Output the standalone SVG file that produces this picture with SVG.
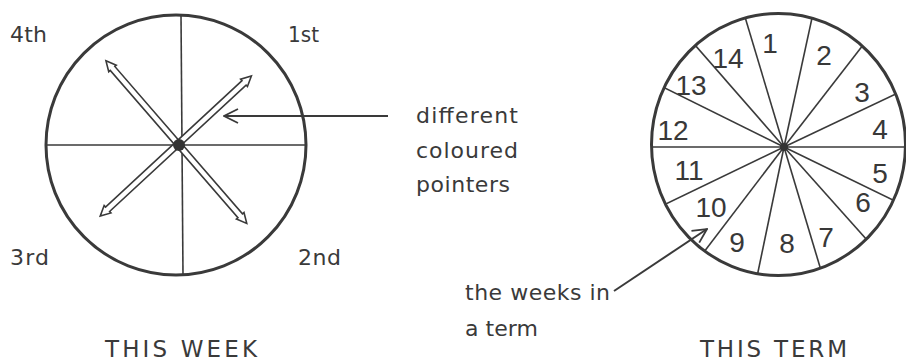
<svg xmlns="http://www.w3.org/2000/svg" width="906" height="362" viewBox="0 0 906 362">
<style>
  .rim { fill: none; stroke: #3a3a3a; stroke-width: 3; }
  .div { stroke: #3a3a3a; stroke-width: 1.6; fill: none; }
  .ptr { fill: #ffffff; stroke: #3a3a3a; stroke-width: 1.6; stroke-linejoin: miter; }
  .hub { fill: #333333; }
  .lbl { font-family: "DejaVu Sans", "Liberation Sans", sans-serif; font-size: 22px; fill: #3a3a3a; }
  .cap { font-family: "DejaVu Sans", "Liberation Sans", sans-serif; font-size: 23px; fill: #3a3a3a; }
  .num { font-family: "Liberation Sans", Arial, sans-serif; font-size: 28px; fill: #383838; text-anchor: middle; }
  .conn { stroke: #3a3a3a; stroke-width: 2; fill: none; }
</style>
<defs>
  <marker id="openHead" viewBox="0 0 16 16" refX="15" refY="8" markerWidth="16" markerHeight="16" markerUnits="userSpaceOnUse" orient="auto">
    <path d="M1,1 L15,8 L1,15" fill="none" stroke="#3a3a3a" stroke-width="1.8"/>
  </marker>
  <clipPath id="termClip">
    <ellipse cx="778.5" cy="144.5" rx="127" ry="131"/>
  </clipPath>
</defs>
<rect width="906" height="362" fill="#ffffff"/>

<g id="this-week">
  <line class="div" x1="181" y1="15" x2="183" y2="275"/>
  <line class="div" x1="46" y1="145" x2="306" y2="145"/>
  <g transform="translate(178,144) rotate(49.1)">
    <polygon class="ptr" points="-110,0 -100,-5 -100,-3 95,-3 95,-5 105,0 95,5 95,3 -100,3 -100,5"/>
  </g>
  <g transform="translate(178,144) rotate(-42.8)">
    <polygon class="ptr" points="-106,0 -96,-5 -96,-3 90,-3 90,-5 100,0 90,5 90,3 -96,3 -96,5"/>
  </g>
  <circle class="hub" cx="179" cy="145" r="6"/>
  <circle class="rim" cx="176" cy="145" r="130"/>
</g>

<g id="week-labels">
  <text class="lbl" x="10" y="42" textLength="37" lengthAdjust="spacing">4th</text>
  <text class="lbl" x="288" y="42" textLength="31" lengthAdjust="spacingAndGlyphs">1st</text>
  <text class="lbl" x="10" y="265" textLength="39" lengthAdjust="spacing">3rd</text>
  <text class="lbl" x="298" y="265" textLength="43" lengthAdjust="spacing">2nd</text>
  <text class="cap" x="105" y="357" textLength="152" lengthAdjust="spacing">THIS WEEK</text>
</g>

<g id="pointer-note">
  <text class="lbl" x="416" y="123" textLength="102" lengthAdjust="spacing">different</text>
  <text class="lbl" x="416" y="158" textLength="102" lengthAdjust="spacing">coloured</text>
  <text class="lbl" x="416" y="192" textLength="94" lengthAdjust="spacing">pointers</text>
</g>

<g id="this-term">
  <g clip-path="url(#termClip)" class="div">
    <line x1="784" y1="147" x2="733.3" y2="-22"/>
    <line x1="784" y1="147" x2="820.4" y2="-20.7"/>
    <line x1="784" y1="147" x2="886.7" y2="14.4"/>
    <line x1="784" y1="147" x2="932.2" y2="76.8"/>
    <line x1="784" y1="147" x2="950" y2="147"/>
    <line x1="784" y1="147" x2="930.9" y2="218.5"/>
    <line x1="784" y1="147" x2="891.9" y2="267.9"/>
    <line x1="784" y1="147" x2="830.8" y2="303"/>
    <line x1="784" y1="147" x2="750.2" y2="309.5"/>
    <line x1="784" y1="147" x2="683.9" y2="278.3"/>
    <line x1="784" y1="147" x2="633.2" y2="219.8"/>
    <line x1="784" y1="147" x2="610" y2="147"/>
    <line x1="784" y1="147" x2="629.3" y2="70.3"/>
    <line x1="784" y1="147" x2="668.3" y2="14.4"/>
  </g>
  <circle class="hub" cx="784" cy="147" r="4"/>
  <ellipse class="rim" cx="778.5" cy="144.5" rx="127" ry="131"/>
  <text class="num" x="770" y="53">1</text>
  <text class="num" x="824" y="65">2</text>
  <text class="num" x="862" y="102">3</text>
  <text class="num" x="880" y="139">4</text>
  <text class="num" x="880" y="183">5</text>
  <text class="num" x="863" y="212">6</text>
  <text class="num" x="826" y="247">7</text>
  <text class="num" x="787" y="253">8</text>
  <text class="num" x="737" y="252">9</text>
  <text class="num" x="711" y="217">10</text>
  <text class="num" x="689" y="180">11</text>
  <text class="num" x="673" y="140">12</text>
  <text class="num" x="691" y="95">13</text>
  <text class="num" x="728" y="68">14</text>
</g>

<g id="term-labels">
  <text class="lbl" x="465" y="300" textLength="145" lengthAdjust="spacing">the weeks in</text>
  <text class="lbl" x="465" y="336" textLength="73" lengthAdjust="spacing">a term</text>
  <text class="cap" x="700" y="357" textLength="147" lengthAdjust="spacing">THIS TERM</text>
</g>

<g id="connectors">
  <line class="conn" x1="388" y1="116" x2="224" y2="116" marker-end="url(#openHead)"/>
  <line class="conn" x1="614" y1="291" x2="707" y2="229" marker-end="url(#openHead)"/>
</g>
</svg>
